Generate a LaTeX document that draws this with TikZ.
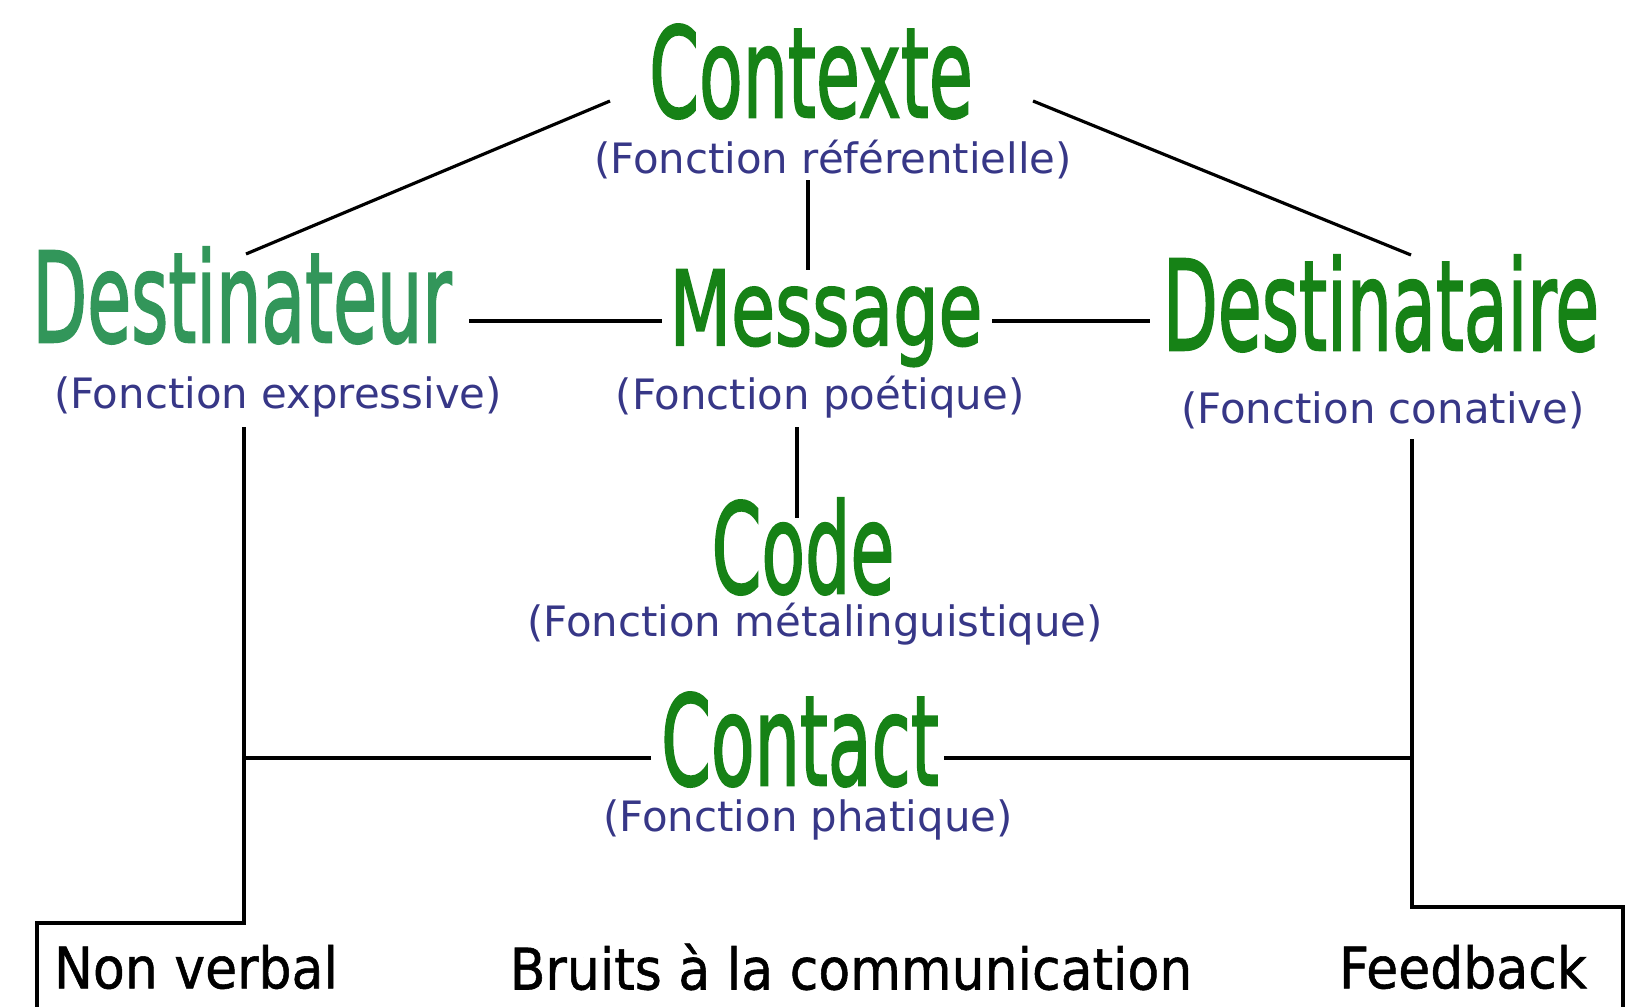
\documentclass[tikz,border=0pt]{standalone}
\usepackage{fontspec}
\setmainfont{DejaVu Sans}
\newfontfamily\grasfont[FakeBold=2]{DejaVu Sans}
\newfontfamily\basfont[FakeBold=1]{DejaVu Sans}
\definecolor{vert}{RGB}{22,130,22}
\definecolor{vertclair}{RGB}{50,150,90}
\definecolor{bleu}{RGB}{55,55,135}
\newcommand\titre[2][1.75]{\scalebox{1}[#1]{#2}}
\newcommand\bas[1]{\scalebox{1}[1.1]{#1}}
\begin{document}
\begin{tikzpicture}[x=0.01cm,y=-0.01cm,
    titre/.style={anchor=base,inner sep=0pt,text=vert,font=\grasfont\fontsize{20.3pt}{24pt}\selectfont},
    fonction/.style={inner sep=0pt,text=bleu,font=\fontsize{11.9pt}{14pt}\selectfont},
    etiquette/.style={inner sep=0pt,font=\basfont\fontsize{14.8pt}{18pt}\selectfont},
    trait/.style={line width=0.9pt}]
      \useasboundingbox (0,0) rectangle (1640,1006);
      \draw
        (811,117) node[titre] (ctx){\titre{Contexte}}
        (242,342) node[titre,text=vertclair] (dst){\titre{Destinateur}}
        (826,345) node[titre] (msg){\titre[1.45]{Message}}
        (1381,350) node[titre] (dsr){\titre{Destinataire}}
        (803,593) node[titre] (code){\titre{Code}}
        (800,785) node[titre] (cct){\titre{Contact}};
      \draw
        (833,160) node[fonction] (ctxf){(Fonction référentielle)}
        (278,397) node[fonction] (dstf){(Fonction expressive)}
        (820,397) node[fonction] (msgf){(Fonction poétique)}
        (1383,410) node[fonction] (dsrf){(Fonction conative)}
        (815,624) node[fonction] (codef){(Fonction métalinguistique)}
        (808,820) node[fonction] (cctf){(Fonction phatique)};
      \draw
        (196,967) node[etiquette] (nv){\bas{Non verbal}}
        (851,967) node[etiquette] (bruits){\bas{Bruits à la communication}}
        (1463,967) node[etiquette] (fb){\bas{Feedback}};
      \coordinate (g) at ([shift={(-34,30)}]dstf.center);
      \coordinate (d) at ([shift={(29,29)}]dsrf.center);
      \coordinate (nvc) at ([shift={(-159,-44)}]nv.center);
      \coordinate (fbc) at ([shift={(160,-60)}]fb.center);
      \coordinate (cctg) at ([shift={(-149,-27)}]cct.base);
      \coordinate (cctd) at ([shift={(144,-27)}]cct.base);
      \begin{scope}[trait]
        \draw ([shift={(-201,-16)}]ctx.base) to ([shift={(4,-88)}]dst.base);
        \draw ([shift={(222,-16)}]ctx.base) to ([shift={(30,-95)}]dsr.base);
        \draw ([shift={(-25,20)}]ctxf.center) to ([shift={(-18,-75)}]msg.base);
        \draw ([shift={(227,-21)}]dst.base) to ([shift={(-164,-24)}]msg.base);
        \draw ([shift={(166,-24)}]msg.base) to ([shift={(-231,-29)}]dsr.base);
        \draw ([shift={(-23,30)}]msgf.center) to ([shift={(-6,-75)}]code.base);
        \draw (g) |- (nvc) -- ++(0,90);
        \draw (d) |- (fbc) -- ++(0,100);
        \draw (cctg) to (cctg -| g);
        \draw (cctd) to (cctd -| d);
      \end{scope}
    \end{tikzpicture}
\end{document}
